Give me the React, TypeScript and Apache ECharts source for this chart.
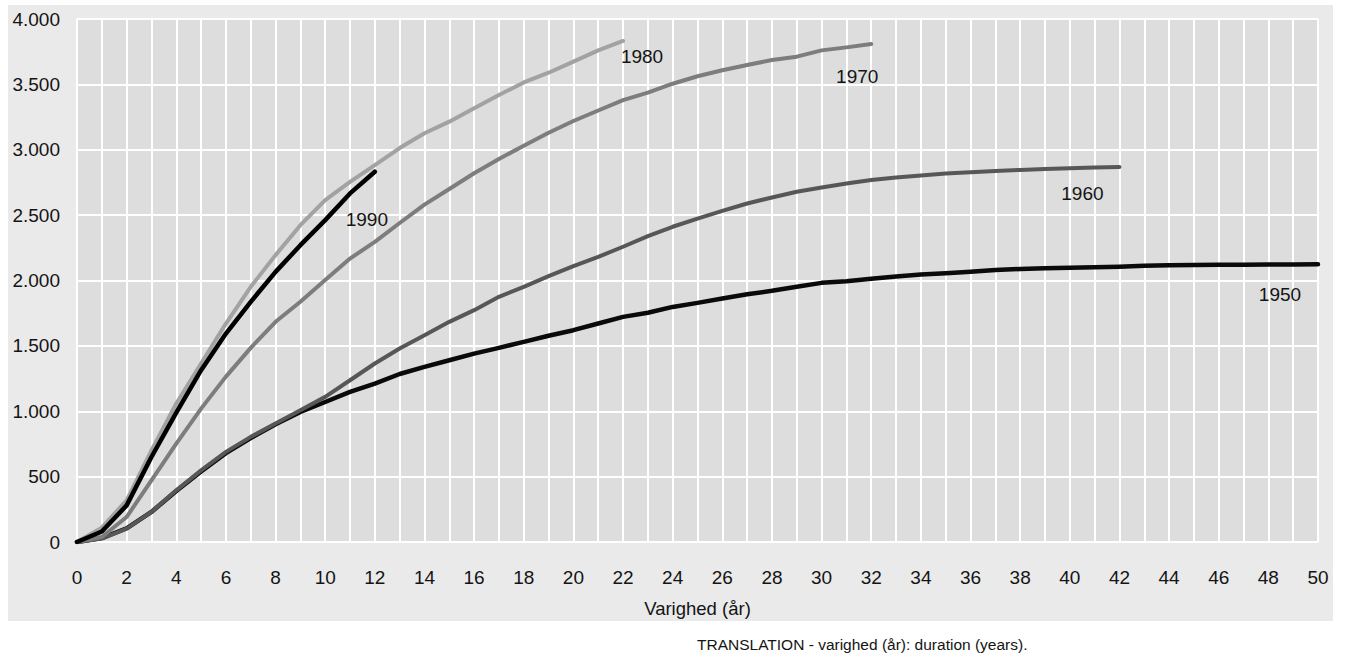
import React, { useEffect, useRef } from "react";
import * as echarts from "echarts";

// Cumulative values by duration (years 0..n) for each cohort
const cohorts = ["1950", "1960", "1970", "1980", "1990"];
const v1950 = [0, 30, 105, 230, 390, 540, 680, 795, 900, 995, 1071, 1148, 1212, 1285, 1339, 1390, 1441, 1485, 1531, 1577, 1620, 1671, 1722, 1753, 1798, 1829, 1862, 1895, 1921, 1952, 1982, 1995, 2013, 2030, 2045, 2056, 2066, 2080, 2088, 2093, 2098, 2102, 2106, 2112, 2116, 2118, 2120, 2121, 2122, 2123, 2124];
const v1960 = [0, 26, 102, 230, 395, 548, 689, 804, 906, 1008, 1110, 1237, 1365, 1480, 1582, 1684, 1773, 1875, 1952, 2033, 2110, 2181, 2258, 2339, 2411, 2474, 2533, 2589, 2635, 2679, 2712, 2742, 2768, 2788, 2803, 2818, 2828, 2838, 2846, 2853, 2859, 2864, 2868];
const v1970 = [0, 38, 191, 472, 753, 1020, 1265, 1485, 1684, 1837, 2003, 2168, 2296, 2440, 2580, 2700, 2820, 2930, 3030, 3130, 3220, 3300, 3380, 3437, 3505, 3562, 3608, 3648, 3686, 3712, 3760, 3783, 3809];
const v1980 = [0, 110, 319, 700, 1059, 1365, 1671, 1952, 2194, 2423, 2615, 2755, 2883, 3013, 3126, 3215, 3317, 3419, 3515, 3589, 3674, 3760, 3832];
const v1990 = [0, 80, 280, 650, 990, 1314, 1594, 1837, 2066, 2270, 2462, 2666, 2832];

const xAxisName = "Varighed (år)";
const translation = "TRANSLATION - varighed (år): duration (years).";

const FONT = "'Liberation Sans', Arial, sans-serif";
const TEXT = "#141414";

function fmtThousands(v: number): string {
  if (v >= 1000) {
    return Math.floor(v / 1000) + "." + String(v % 1000).padStart(3, "0");
  }
  return String(v);
}

export default function App() {
  const ref = useRef<HTMLDivElement>(null);

  useEffect(() => {
    if (!ref.current) return;
    const chart = echarts.init(ref.current, undefined, { renderer: "svg" });

    const seriesDefs = [
      { name: cohorts[0], values: v1950, color: "#0a0a0a", width: 4.5, offset: [-38, 30] },
      { name: cohorts[1], values: v1960, color: "#575757", width: 4, offset: [-37, 26] },
      { name: cohorts[2], values: v1970, color: "#7d7d7d", width: 4, offset: [-14, 33] },
      { name: cohorts[3], values: v1980, color: "#a2a2a2", width: 4, offset: [19, 16] },
      { name: cohorts[4], values: v1990, color: "#000000", width: 4.5, offset: [-8, 48] },
    ];

    chart.setOption({
      animation: false,
      graphic: [
        {
          type: "rect",
          z: -10,
          silent: true,
          shape: { x: 8, y: 5, width: 1325, height: 616 },
          style: { fill: "#eaeaea" },
        },
        {
          type: "text",
          left: 697,
          top: 636,
          silent: true,
          style: { text: translation, font: `15.5px ${FONT}`, fill: TEXT },
        },
      ],
      grid: {
        left: 77,
        right: 27,
        top: 19,
        bottom: 113,
        show: true,
        backgroundColor: "#dddddd",
        borderWidth: 0,
      },
      xAxis: {
        type: "value",
        min: 0,
        max: 50,
        interval: 1,
        name: xAxisName,
        nameLocation: "middle",
        nameGap: 57,
        nameTextStyle: { fontFamily: FONT, fontSize: 18.5, color: TEXT },
        axisLine: { show: false },
        axisTick: { show: false },
        axisLabel: {
          margin: 26,
          fontFamily: FONT,
          fontSize: 19,
          color: TEXT,
          formatter: (v: number) => (v % 2 === 0 ? String(v) : ""),
        },
        splitLine: { show: true, lineStyle: { color: "#ffffff", width: 2 } },
      },
      yAxis: {
        type: "value",
        min: 0,
        max: 4000,
        interval: 500,
        axisLine: { show: false },
        axisTick: { show: false },
        axisLabel: {
          margin: 17,
          fontFamily: FONT,
          fontSize: 19,
          color: TEXT,
          formatter: (v: number) => fmtThousands(v),
        },
        splitLine: { show: true, lineStyle: { color: "#ffffff", width: 2 } },
      },
      series: seriesDefs.map((s) => ({
        type: "line",
        name: s.name,
        data: s.values.map((v, i) => [i, v]),
        showSymbol: false,
        symbol: "none",
        lineStyle: { color: s.color, width: s.width, cap: "round", join: "round" },
        itemStyle: { color: s.color },
        markPoint: {
          symbol: "circle",
          symbolSize: 0,
          silent: true,
          itemStyle: { color: "transparent" },
          label: {
            show: true,
            position: "inside",
            offset: s.offset,
            formatter: s.name,
            fontFamily: FONT,
            fontSize: 19,
            color: TEXT,
          },
          data: [{ coord: [s.values.length - 1, s.values[s.values.length - 1]] }],
        },
      })),
    });

    return () => chart.dispose();
  }, []);

  return (
    <div
      ref={ref}
      style={{ position: "absolute", left: 0, top: 0, width: 1345, height: 655 }}
    />
  );
}
